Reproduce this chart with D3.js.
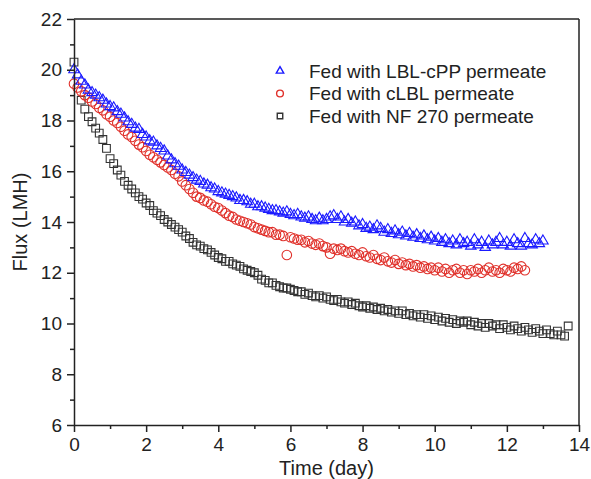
<!DOCTYPE html>
<html>
<head>
<meta charset="utf-8">
<script src="https://cdn.jsdelivr.net/npm/d3@7"></script>
<style>
  body { margin: 0; background: #fff; }
  svg { font-family: "Liberation Sans", Arial, sans-serif; }
</style>
</head>
<body>
<svg width="591" height="479"></svg>
<script>
/* Data */

var days = [0,0.1,0.2,0.3,0.4,0.5,0.6,0.7,0.8,0.9,1,1.1,1.2,1.3,1.4,1.5,1.6,1.7,1.8,1.9,
  2,2.1,2.2,2.3,2.4,2.5,2.6,2.7,2.8,2.9,3,3.1,3.2,3.3,3.4,3.5,3.6,3.7,3.8,3.9,
  4,4.1,4.2,4.3,4.4,4.5,4.6,4.7,4.8,4.9,5,5.1,5.2,5.3,5.4,5.5,5.6,5.7,5.8,5.9,
  6,6.1,6.2,6.3,6.4,6.5,6.6,6.7,6.8,6.9,7,7.1,7.2,7.3,7.4,7.5,7.6,7.7,7.8,7.9,
  8,8.1,8.2,8.3,8.4,8.5,8.6,8.7,8.8,8.9,9,9.1,9.2,9.3,9.4,9.5,9.6,9.7,9.8,9.9,
  10,10.1,10.2,10.3,10.4,10.5,10.6,10.7,10.8,10.9,11,11.1,11.2,11.3,11.4,11.5,11.6,11.7,11.8,11.9,
  12,12.1,12.2,12.3,12.4,12.5,12.6,12.7,12.8,12.9,13,13.1,13.2,13.3,13.4,13.5,13.6,13.7];

// Fed with LBL-cPP permeate (0 - 13 d)
var fluxLBLcPP = [20.0,19.8,19.55,19.4,19.2,19.1,19.0,18.9,18.8,18.65,
  18.55,18.5,18.35,18.25,18.1,17.95,17.85,17.7,17.65,17.45,
  17.35,17.2,17.15,17.0,16.9,16.8,16.6,16.45,16.3,16.2,
  16.05,15.95,15.85,15.75,15.65,15.6,15.5,15.45,15.35,15.3,
  15.2,15.15,15.1,15.05,15.0,14.95,14.85,14.85,14.8,14.7,
  14.7,14.6,14.6,14.55,14.5,14.45,14.45,14.4,14.35,14.4,
  14.3,14.25,14.3,14.2,14.15,14.2,14.1,14.05,14.15,14.05,
  14.1,14.2,14.25,14.1,14.2,14.0,14.1,13.95,14.0,13.85,
  13.9,13.75,13.8,13.7,13.85,13.75,13.6,13.7,13.55,13.65,
  13.5,13.6,13.45,13.55,13.4,13.5,13.35,13.45,13.3,13.4,
  13.25,13.35,13.2,13.3,13.15,13.25,13.1,13.3,13.15,13.2,
  13.05,13.3,13.1,13.2,13.0,13.25,13.1,13.2,13.35,13.1,
  13.2,13.05,13.3,13.15,13.05,13.35,13.15,13.1,13.3,13.15,13.25];

// Fed with cLBL permeate (0 - 12.5 d)
var fluxCLBL = [19.45,19.3,19.15,19.0,18.9,18.75,18.65,18.5,18.4,18.25,
  18.15,18.0,17.9,17.75,17.6,17.45,17.35,17.2,17.05,16.95,
  16.8,16.65,16.55,16.45,16.35,16.25,16.15,16.05,15.9,15.8,
  15.6,15.45,15.3,15.15,15.0,14.95,14.85,14.8,14.7,14.6,
  14.55,14.45,14.35,14.25,14.2,14.1,14.05,14.0,13.95,13.9,
  13.8,13.75,13.7,13.65,13.6,13.6,13.5,13.5,13.45,12.7,
  13.4,13.35,13.3,13.3,13.2,13.25,13.15,13.1,13.15,13.05,
  13.0,12.75,12.95,12.9,12.95,12.85,12.8,12.85,12.75,12.7,
  12.8,12.65,12.6,12.7,12.55,12.5,12.6,12.45,12.4,12.5,
  12.35,12.4,12.3,12.35,12.25,12.3,12.2,12.25,12.15,12.2,
  12.1,12.2,12.05,12.15,12.0,12.1,12.15,12.0,12.1,11.95,
  12.1,12.05,12.15,12.0,12.1,12.2,12.05,12.1,12.0,12.15,
  12.1,12.05,12.2,12.15,12.25,12.1];

// Fed with NF 270 permeate (0 - 13.7 d), null = no reading
var fluxNF270 = [20.3,null,18.8,18.45,18.15,17.95,17.7,17.5,17.25,16.9,
  16.5,16.3,16.05,15.85,15.6,15.45,15.3,15.15,15.0,14.9,
  14.75,14.65,14.45,14.35,14.25,14.1,14.0,13.9,13.8,13.7,
  13.6,13.45,13.35,13.2,13.1,13.05,12.95,12.9,12.8,12.7,
  12.6,12.55,12.45,12.45,12.35,12.3,12.25,12.15,12.1,12.05,
  12.0,11.9,11.75,11.7,11.6,11.6,11.5,11.45,11.4,11.4,
  11.35,11.3,11.25,11.25,11.15,11.2,11.1,11.05,11.1,11.0,
  11.05,10.95,10.9,10.95,10.85,10.8,10.85,10.75,10.8,10.7,
  10.65,10.7,10.6,10.65,10.55,10.6,10.5,10.55,10.45,10.5,
  10.4,10.5,10.35,10.4,10.3,10.35,10.25,10.35,10.2,10.3,
  10.15,10.25,10.1,10.2,10.05,10.15,10.0,10.1,10.05,10.1,
  9.95,10.05,9.9,10.0,9.85,10.0,9.9,9.95,9.8,9.95,
  9.85,9.75,9.9,9.8,9.7,9.85,9.75,9.65,9.8,9.7,
  9.6,9.75,9.6,9.55,9.7,9.55,9.5,9.9];

var xTicks = [0,2,4,6,8,10,12,14];
var yTicks = [6,8,10,12,14,16,18,20,22];

var series = [
  {name: "Fed with NF 270 permeate",  values: fluxNF270,  color: "#333333", shape: d3.symbolSquare,   size: 60, legendSize: 30},
  {name: "Fed with cLBL permeate",    values: fluxCLBL,   color: "#e0302a", shape: d3.symbolCircle,   size: 72, legendSize: 36},
  {name: "Fed with LBL-cPP permeate", values: fluxLBLcPP, color: "#1a1aff", shape: d3.symbolTriangle, size: 48, legendSize: 24}
];

/* Layout */

var svg = d3.select("svg");
var pLeft = 74, pRight = 579, pTop = 19, pBottom = 425;

var x = d3.scaleLinear().domain([0, 14]).range([pLeft, pRight]);
var y = d3.scaleLinear().domain([6, 22]).range([pBottom, pTop]);

/* Points */

series.forEach((s) => {
  var pts = s.values
    .map((v, i) => ({t: days[i], v: v}))
    .filter((d) => d.v !== null);
  svg.append("g")
    .selectAll("path")
    .data(pts)
    .enter().append("path")
    .attr("d", d3.symbol().type(s.shape).size(s.size))
    .attr("transform", (d) => `translate(${x(d.t)},${y(d.v)})`)
    .attr("fill", "none")
    .attr("stroke", s.color)
    .attr("stroke-width", 1.1);
});

/* Axes */

var minorX = [1,3,5,7,9,11,13];
var minorY = [7,9,11,13,15,17,19,21];

svg.append("g")
  .attr("transform", `translate(0,${pBottom})`)
  .call(d3.axisBottom(x).tickValues(minorX).tickSize(4).tickFormat(""))
  .call((g) => g.select(".domain").remove());

svg.append("g")
  .attr("transform", `translate(${pLeft},0)`)
  .call(d3.axisLeft(y).tickValues(minorY).tickSize(4).tickFormat(""))
  .call((g) => g.select(".domain").remove());

svg.append("g")
  .attr("transform", `translate(0,${pBottom})`)
  .call(d3.axisBottom(x).tickValues(xTicks).tickSize(7).tickSizeOuter(0).tickPadding(6).tickFormat(d3.format("d")));

svg.append("g")
  .attr("transform", `translate(${pLeft},0)`)
  .call(d3.axisLeft(y).tickValues(yTicks).tickSize(7).tickSizeOuter(0).tickPadding(5).tickFormat(d3.format("d")));

svg.selectAll(".tick text")
  .attr("font-size", 19)
  .attr("font-family", "Liberation Sans, Arial, sans-serif")
  .attr("fill", "#222");

svg.selectAll(".tick line, .domain")
  .attr("stroke", "#222")
  .attr("stroke-width", 1.5);

// top and right frame
svg.append("line")
  .attr("x1", pLeft).attr("x2", pRight).attr("y1", pTop).attr("y2", pTop)
  .attr("stroke", "#222").attr("stroke-width", 1.5);
svg.append("line")
  .attr("x1", pRight).attr("x2", pRight).attr("y1", pTop).attr("y2", pBottom)
  .attr("stroke", "#222").attr("stroke-width", 1.5);

/* Axis titles */

svg.append("text")
  .attr("x", (pLeft + pRight) / 2)
  .attr("y", 475)
  .attr("text-anchor", "middle")
  .attr("font-size", 20)
  .attr("fill", "#222")
  .text("Time (day)");

svg.append("text")
  .attr("transform", `translate(27,${(pTop + pBottom) / 2}) rotate(-90)`)
  .attr("text-anchor", "middle")
  .attr("font-size", 20)
  .attr("fill", "#222")
  .text("Flux (LMH)");

/* Legend */

var legendRows = series.slice().reverse();
var legend = svg.append("g");
legendRows.forEach((s, i) => {
  var ly = 71 + i * 22.5;
  legend.append("path")
    .attr("d", d3.symbol().type(s.shape).size(s.legendSize))
    .attr("transform", `translate(280,${ly})`)
    .attr("fill", "none")
    .attr("stroke", s.color)
    .attr("stroke-width", 1.4);
  legend.append("text")
    .attr("x", 309)
    .attr("y", ly)
    .attr("dy", "0.35em")
    .attr("font-size", 19)
    .attr("fill", "#222")
    .text(s.name);
});
</script>
</body>
</html>
